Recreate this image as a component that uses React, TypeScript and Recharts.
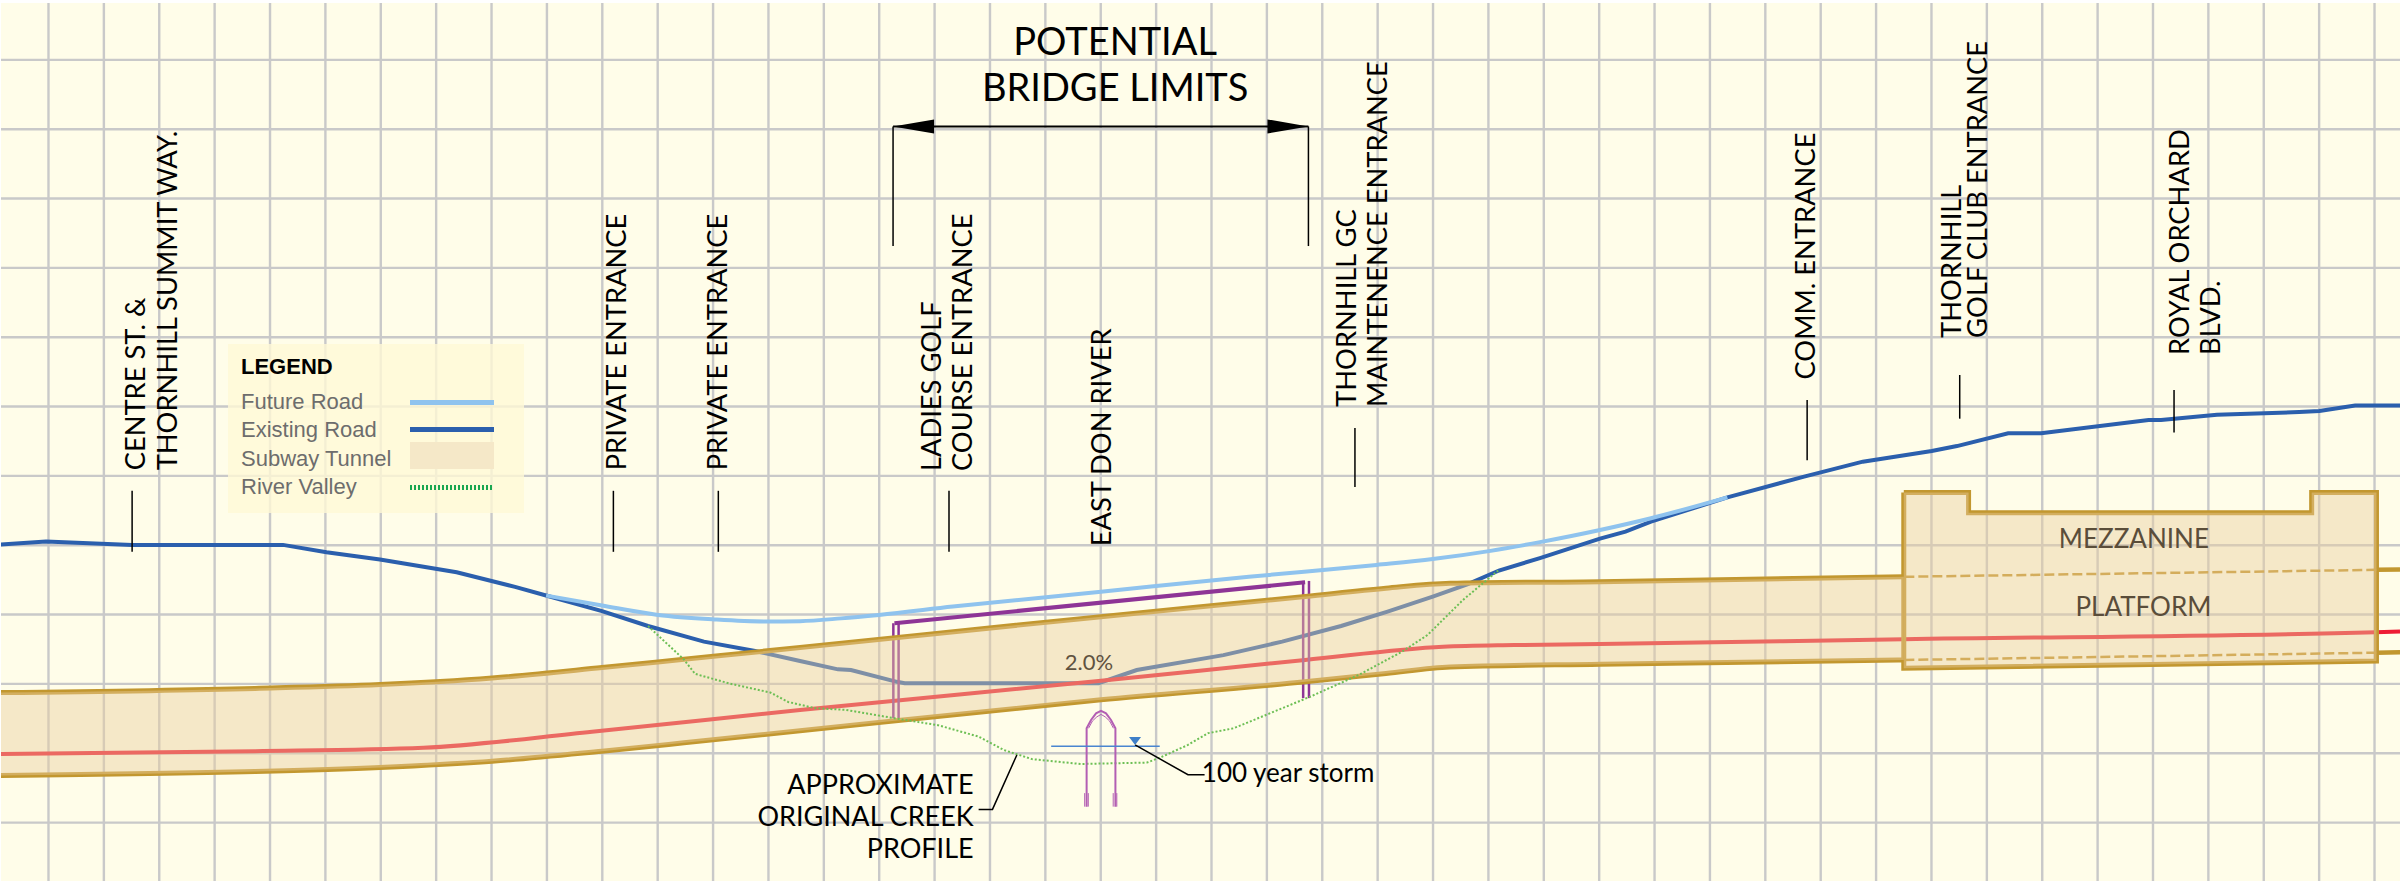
import { CartesianGrid, ComposedChart, Area, Legend, Line, Scatter, XAxis, YAxis } from "recharts";

// profile along the road: station (m) and elevation (m)
const gridStations = Array.from({ length: 43 }, (_, i) => i * 20);
const gridElevations = [186, 188, 190, 192, 194, 196, 198, 200, 202, 204, 206, 208];

const existingStations = [-17.5, -0.9, 30.2, 84.7, 100.4, 119.7, 147.4, 168.5, 179.7, 199.9, 216.5, 236.7, 255.2, 271.4, 285.1, 289.8, 306.4, 309.2, 379.2, 393.0, 424.3, 445.5, 466.8, 483.3, 499.9, 512.6, 523.8, 538.6, 560.3, 569.5, 578.7, 606.3, 634.0, 655.2, 680.1, 689.2, 707.7, 719.6, 758.4, 762.9, 783.1, 812.8, 820.1, 833.0, 849.2];
const existingRoad = [194.02, 194.11, 194.01, 194.01, 193.8, 193.59, 193.22, 192.8, 192.55, 192.1, 191.67, 191.22, 190.95, 190.66, 190.42, 190.4, 190.06, 190.02, 190.02, 190.4, 190.83, 191.22, 191.67, 192.08, 192.52, 192.88, 193.27, 193.63, 194.19, 194.39, 194.68, 195.38, 195.98, 196.41, 196.72, 196.86, 197.23, 197.23, 197.61, 197.61, 197.76, 197.84, 197.87, 198.03, 198.03];

const futureStations = [179.7, 199.9, 220.1, 240.4, 258.8, 271.4, 286.2, 299.9, 326.6, 380.1, 433.5, 479.6, 499.9, 520.2, 538.6, 560.3, 578.7, 606.3];
const futureRoad = [192.55, 192.26, 191.99, 191.86, 191.8, 191.81, 191.89, 191.99, 192.23, 192.66, 193.09, 193.43, 193.6, 193.83, 194.09, 194.44, 194.78, 195.38];

const trackStations = [-17.5, 74.6, 135.4, 196.3, 271.4, 380.1, 453.8, 503.6, 529.3, 560.3, 670.0, 840.4, 849.2];
const trackProfile = [187.98, 188.06, 188.16, 188.62, 189.25, 190.09, 190.69, 191.07, 191.12, 191.15, 191.29, 191.49, 191.51];

const tunnelStations = [-17.5, 74.6, 119.7, 160.2, 199.9, 229.5, 271.4, 380.1, 453.8, 483.0, 506.2, 560.3, 670.0];
const tunnelTop = [189.75, 189.87, 189.98, 190.17, 190.47, 190.71, 191.05, 191.94, 192.52, 192.76, 192.9, 192.95, 193.09];
const tunnelBottom = [187.36, 187.47, 187.59, 187.77, 188.06, 188.3, 188.65, 189.54, 190.06, 190.3, 190.49, 190.57, 190.69];

const stationEndX = [840.7, 849.2];
const stationEndTop = [193.29, 193.3];
const stationEndBottom = [190.9, 190.91];
const stationDashX = [670.2, 840.7];
const stationDashTop = [193.09, 193.29];
const stationDashBottom = [190.69, 190.9];

const boxFillX = [670.0, 693.4, 693.4, 817.3, 817.3, 840.7];
const boxFillTop = [195.52, 195.52, 194.94, 194.94, 195.52, 195.52];
const boxFillBottom = [190.45, 190.48, 190.48, 190.63, 190.63, 190.66];
const boxOutlineX = [670.0, 693.4, 693.4, 817.3, 817.3, 840.7, 840.7, 670.0, 670.0];
const boxOutlineE = [195.52, 195.52, 194.94, 194.94, 195.52, 195.52, 190.66, 190.45, 195.52];

const valleyStations = [216.5, 229.4, 233.5, 246.0, 260.7, 267.1, 271.4, 276.8, 288.0, 305.5, 321.2, 335.9, 345.1, 355.2, 372.7, 396.7, 402.1, 411.5, 418.8, 428.0, 455.6, 473.2, 488.8, 498.0, 510.8, 523.5];
const riverValley = [191.67, 190.71, 190.29, 190.01, 189.75, 189.48, 189.4, 189.3, 189.25, 189.01, 188.81, 188.48, 188.09, 187.83, 187.69, 187.73, 187.9, 188.24, 188.58, 188.72, 189.63, 190.26, 190.93, 191.41, 192.42, 193.27];

const bridgeDeckX = [305.5, 453.8];
const bridgeDeckE = [191.75, 192.93];
const bridgePostsX = [305.1, 307.0, 453.1, 455.2];
const bridgePostsTop = [191.75, 191.78, 192.97, 192.97];
const bridgePostsBottom = [189.01, 189.01, 189.59, 189.59];

const archX = [374.9, 374.9, 376.5, 378.3, 380.1, 381.9, 383.7, 385.3, 385.3];
const archE = [186.46, 188.72, 188.96, 189.15, 189.22, 189.15, 188.96, 188.72, 186.46];
const archInnerX = [375.6, 377, 378.6, 380.1, 381.6, 383.2, 384.6];
const archInnerE = [188.72, 188.93, 189.05, 189.12, 189.05, 188.93, 188.72];
const footingX = [374.2, 375.5, 384.5, 385.8];
const footingTop = 186.85;
const footingBottom = 186.46;

const waterX = [362.1, 401.3];
const waterE = [188.2, 188.2];
const waterMarker = [{ s: 392.4, e: 188.24 }];

const stormLeaderX = [392.4, 411.5, 417.5];
const stormLeaderE = [188.24, 187.38, 187.38];
const creekLeaderX = [349.7, 340.9, 335.9];
const creekLeaderE = [187.95, 186.38, 186.38];

const tickX = [30.2, 204.0, 241.9, 325.2, 471.8, 635.1, 690.2, 767.6];
const tickTop = [195.57, 195.57, 195.57, 195.57, 197.38, 198.19, 198.91, 198.48];
const tickBottom = [193.81, 193.81, 193.81, 193.81, 195.68, 196.45, 197.65, 197.25];

const limitX = [305.0, 455.0];
const limitTop = 206.08;
const limitBottom = 202.63;
const arrowX = [319.8, 440.2];

const accessLabels = ["CENTRE ST. &", "THORNHILL SUMMIT WAY.", "PRIVATE ENTRANCE", "PRIVATE ENTRANCE", "LADIES GOLF", "COURSE ENTRANCE", "EAST DON RIVER", "THORNHILL GC", "MAINTENENCE ENTRANCE", "COMM. ENTRANCE", "THORNHILL", "GOLF CLUB ENTRANCE", "ROYAL ORCHARD", "BLVD."];
const accessLabelX = [34.8, 46.4, 208.6, 245.0, 322.3, 333.5, 383.7, 472.1, 483.4, 638.0, 690.7, 700.1, 773.0, 784.2];
const accessLabelE = [196.16, 196.16, 196.16, 196.16, 196.14, 196.14, 193.97, 197.99, 197.99, 198.78, 199.98, 199.98, 199.49, 199.49];

const titleLines = ["POTENTIAL", "BRIDGE LIMITS"];
const titleX = [385.2, 385.2];
const titleE = [208.14, 206.8];

const creekLines = ["APPROXIMATE", "ORIGINAL CREEK", "PROFILE"];
const creekX = [334.1, 334.1, 334.1];
const creekE = [186.82, 185.89, 184.98];

const legendNames = ["Future Road", "Existing Road", "Subway Tunnel", "River Valley"];

const rows = (xs: number[], es: number[]) => xs.map((s, i) => ({ s, e: es[i] }));
const ranges = (xs: number[], low: number[], high: number[]) =>
  xs.map((s, i) => ({ s, range: [low[i], high[i]] }));

const FONT = "Lato, sans-serif";
const GOLD = "#c2972f";
const PURPLE = "#8e3596";
const ARCH = "#b35eb3";
const GREEN = "#6dbf55";
const FILL = "#e8cd9e";
const OVER = 500; // drawn above the tunnel fill

const polyline = (key: string, data: { s: number; e: number }[], stroke: string, strokeWidth: number, extra: object = {}) => (
  <Line
    key={key}
    data={data}
    dataKey="e"
    type="linear"
    stroke={stroke}
    strokeWidth={strokeWidth}
    dot={false}
    activeDot={false}
    legendType="none"
    isAnimationActive={false}
    {...extra}
  />
);

const textShape = (size: number, fill: string, anchor: string, rotate: boolean) => (props: any) => (
  <text
    x={props.cx}
    y={props.cy}
    fontFamily={FONT}
    fontSize={size}
    fill={fill}
    textAnchor={anchor}
    transform={rotate ? `rotate(-90 ${props.cx} ${props.cy})` : undefined}
  >
    {props.payload.text}
  </text>
);

const labelRows = (texts: string[], xs: number[], es: number[]) =>
  texts.map((text, i) => ({ text, s: xs[i], e: es[i] }));

const LegendBox = () => (
  <div style={{ width: 296, height: 169, background: "rgba(255,249,214,0.8)", position: "relative", fontFamily: "'Liberation Sans', sans-serif" }}>
    <div style={{ position: "absolute", left: 13, top: 10, fontWeight: "bold", fontSize: 22, color: "#000" }}>LEGEND</div>
    {legendNames.map((name, i) => (
      <div key={name} style={{ position: "absolute", left: 13, top: 45 + i * 28.3, fontSize: 22, color: "#6d6d6d" }}>{name}</div>
    ))}
    <div style={{ position: "absolute", left: 182, top: 56, width: 84, height: 5, background: "#8fc3ee" }} />
    <div style={{ position: "absolute", left: 182, top: 83, width: 84, height: 5, background: "#2b5fad" }} />
    <div style={{ position: "absolute", left: 182, top: 98, width: 84, height: 27, background: "#f5e8c8" }} />
    <div style={{ position: "absolute", left: 182, top: 141, width: 84, height: 5, background: "repeating-linear-gradient(90deg,#1aa650 0 2px,transparent 2px 4px)" }} />
  </div>
);

const App = () => {
  return (
    <div
      style={{
        position: "absolute",
        left: 0,
        top: 0,
        width: 2400,
        height: 881,
        boxSizing: "border-box",
        borderTop: "3px solid #fff",
        borderLeft: "1px solid #fff",
        background: "#fffde9",
      }}
    >
      <ComposedChart width={2399} height={878} margin={{ top: 0, right: 0, bottom: 0, left: 0 }}>
        <XAxis type="number" dataKey="s" domain={[-17.15, 849.2]} allowDataOverflow interval={0} hide />
        <YAxis type="number" dataKey="e" domain={[184.315, 209.64]} allowDataOverflow interval={0} hide />
        <CartesianGrid stroke="#c9c9c9" strokeWidth={2.4} verticalValues={gridStations} horizontalValues={gridElevations} />

        {polyline("existing", rows(existingStations, existingRoad), "#2b5fad", 4)}
        {polyline("future", rows(futureStations, futureRoad), "#8fc3ee", 4, { type: "monotone" })}
        {polyline("track", rows(trackStations, trackProfile), "#ee1c35", 4, { type: "monotone" })}

        {polyline("deck", rows(bridgeDeckX, bridgeDeckE), PURPLE, 4)}
        {bridgePostsX.map((s, i) =>
          polyline(`post${i}`, rows([s, s], [bridgePostsTop[i], bridgePostsBottom[i]]), PURPLE, 2.5)
        )}

        {polyline("tunnelTop", rows(tunnelStations, tunnelTop), GOLD, 5, { type: "monotone" })}
        {polyline("tunnelBottom", rows(tunnelStations, tunnelBottom), GOLD, 5, { type: "monotone" })}
        {polyline("endTop", rows(stationEndX, stationEndTop), GOLD, 4.5)}
        {polyline("endBottom", rows(stationEndX, stationEndBottom), GOLD, 4.5)}
        {polyline("box", rows(boxOutlineX, boxOutlineE), GOLD, 5)}

        <Area
          data={ranges(tunnelStations, tunnelBottom, tunnelTop)}
          dataKey="range"
          type="monotone"
          fill={FILL}
          fillOpacity={0.44}
          stroke="none"
          legendType="none"
          zIndex={450}
          isAnimationActive={false}
        />
        <Area
          data={ranges(boxFillX, boxFillBottom, boxFillTop)}
          dataKey="range"
          type="linear"
          fill={FILL}
          fillOpacity={0.44}
          stroke="none"
          legendType="none"
          zIndex={450}
          isAnimationActive={false}
        />

        {polyline("dashTop", rows(stationDashX, stationDashTop), "#d4ad5c", 2.5, { strokeDasharray: "10 4", zIndex: OVER })}
        {polyline("dashBottom", rows(stationDashX, stationDashBottom), "#d4ad5c", 2.5, { strokeDasharray: "10 4", zIndex: OVER })}

        {polyline("valley", rows(valleyStations, riverValley), GREEN, 2, { strokeDasharray: "2 2", zIndex: OVER })}

        {polyline("arch", rows(archX, archE), ARCH, 2, { zIndex: OVER })}
        {polyline("archInner", rows(archInnerX, archInnerE), ARCH, 1, { zIndex: OVER })}
        {footingX.map((s, i) => polyline(`foot${i}`, rows([s, s], [footingTop, footingBottom]), ARCH, 1, { zIndex: OVER }))}

        {polyline("water", rows(waterX, waterE), "#4a86d0", 1.5, { zIndex: OVER })}
        <Scatter
          data={waterMarker}
          isAnimationActive={false}
          legendType="none"
          shape={(p: any) => (
            <polygon points={`${p.cx - 6},${p.cy - 8} ${p.cx + 6},${p.cy - 8} ${p.cx},${p.cy}`} fill="#3f7fc8" />
          )}
        />
        {polyline("stormLeader", rows(stormLeaderX, stormLeaderE), "#000", 1.5, { zIndex: OVER })}
        {polyline("creekLeader", rows(creekLeaderX, creekLeaderE), "#000", 1.5, { zIndex: OVER })}

        {tickX.map((s, i) => polyline(`tick${i}`, rows([s, s], [tickTop[i], tickBottom[i]]), "#000", 1.5, { zIndex: OVER }))}
        {limitX.map((s, i) => polyline(`limit${i}`, rows([s, s], [limitTop, limitBottom]), "#000", 1.5, { zIndex: OVER }))}
        {polyline("limitSpan", rows(limitX, [limitTop, limitTop]), "#000", 2, { zIndex: OVER })}
        <Scatter
          data={rows(arrowX, [limitTop, limitTop])}
          isAnimationActive={false}
          legendType="none"
          shape={(p: any) => {
            const dir = p.payload.s < 385 ? -1 : 1;
            return (
              <polygon
                points={`${p.cx},${p.cy - 7} ${p.cx},${p.cy + 7} ${p.cx + dir * 41},${p.cy}`}
                fill="#000"
              />
            );
          }}
        />

        <Scatter data={labelRows(accessLabels, accessLabelX, accessLabelE)} isAnimationActive={false} legendType="none" shape={textShape(27.3, "#000", "start", true)} />
        <Scatter data={labelRows(titleLines, titleX, titleE)} isAnimationActive={false} legendType="none" shape={textShape(38, "#000", "middle", false)} />
        <Scatter data={labelRows(creekLines, creekX, creekE)} isAnimationActive={false} legendType="none" shape={textShape(27, "#000", "end", false)} />
        <Scatter data={[{ text: "100 year storm", s: 416.5, e: 187.18 }]} isAnimationActive={false} legendType="none" shape={textShape(26, "#000", "start", false)} />
        <Scatter data={[{ text: "2.0%", s: 367, e: 190.4 }]} isAnimationActive={false} legendType="none" shape={textShape(22, "#5f5240", "start", false)} />
        <Scatter data={[{ text: "MEZZANINE", s: 726, e: 193.92 }, { text: "PLATFORM", s: 732, e: 191.97 }]} isAnimationActive={false} legendType="none" shape={textShape(26, "#5a4d3a", "start", false)} />

        <Legend
          layout="vertical"
          align="center"
          verticalAlign="middle"
          content={<LegendBox />}
          wrapperStyle={{ left: 227, top: 341, width: 296, height: 169, margin: 0 }}
        />
      </ComposedChart>
    </div>
  );
};

export default App;
